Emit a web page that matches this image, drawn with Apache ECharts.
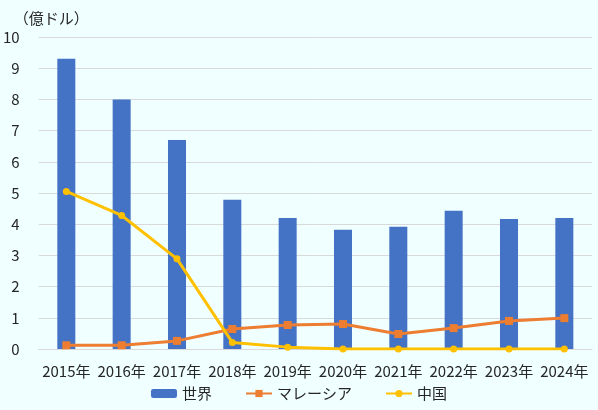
<!DOCTYPE html>
<html lang="ja">
  <head>
    <meta charset="UTF-8" />
    <title>世界・マレーシア・中国</title>
    <script src="https://cdn.jsdelivr.net/npm/echarts@6/dist/echarts.min.js"></script>
    <style>
      * { margin: 0; padding: 0; box-sizing: border-box; }
      html, body { width: 598px; height: 410px; background: #f0ffff; }
      #chart { width: 598px; height: 410px; }
    </style>
  </head>
  <body>
    <div id="chart"></div>
    <script>
      /* ---------- data ---------- */
      const years = ["2015年", "2016年", "2017年", "2018年", "2019年",
                     "2020年", "2021年", "2022年", "2023年", "2024年"];
      const world = [9.3, 8.0, 6.7, 4.78, 4.2, 3.82, 3.92, 4.43, 4.17, 4.2];
      const malaysia = [0.12, 0.12, 0.26, 0.64, 0.77, 0.8, 0.48, 0.67, 0.9, 0.99];
      const china = [5.05, 4.28, 2.89, 0.21, 0.06, 0, 0, 0, 0, 0];

      const font = '"Noto Sans CJK JP", "Noto Sans", sans-serif';
      const fg = "#262626";

      const chart = echarts.init(document.getElementById("chart"), null, { renderer: "canvas" });

      chart.setOption({
        backgroundColor: "#f0ffff",
        animation: false,
        textStyle: { fontFamily: font, color: fg },
        grid: { left: 38, right: 6, top: 37, bottom: 61, containLabel: false },
        legend: {
          bottom: 4,
          left: "center",
          itemGap: 33,
          itemWidth: 26,
          itemHeight: 9,
          textStyle: { fontSize: 15, color: fg, fontFamily: font },
          data: ["世界", "マレーシア", "中国"],
        },
        xAxis: {
          type: "category",
          data: years,
          axisTick: { show: false },
          axisLine: { lineStyle: { color: "#d9d9d9", width: 1 } },
          axisLabel: { color: fg, fontSize: 15, margin: 15, fontFamily: font, interval: 0 },
        },
        yAxis: {
          type: "value",
          name: "（億ドル）",
          nameLocation: "end",
          nameGap: 11,
          nameTextStyle: { color: fg, fontSize: 15, fontFamily: font, align: "left", padding: [0, 0, 0, -25] },
          min: 0,
          max: 10,
          interval: 1,
          axisLine: { show: false },
          axisTick: { show: false },
          axisLabel: { color: fg, fontSize: 15, margin: 19, fontFamily: font },
          splitLine: { lineStyle: { color: "#d9d9d9", width: 1 } },
        },
        series: [
          {
            name: "世界",
            type: "bar",
            data: world,
            barWidth: 18,
            itemStyle: { color: "#4472c4" },
          },
          {
            name: "マレーシア",
            type: "line",
            data: malaysia,
            symbol: "rect",
            symbolSize: 8,
            lineStyle: { color: "#ed7d31", width: 3 },
            itemStyle: { color: "#ed7d31" },
          },
          {
            name: "中国",
            type: "line",
            data: china,
            symbol: "circle",
            symbolSize: 7,
            lineStyle: { color: "#ffc000", width: 3 },
            itemStyle: { color: "#ffc000" },
          },
        ],
      });
    </script>
  </body>
</html>
